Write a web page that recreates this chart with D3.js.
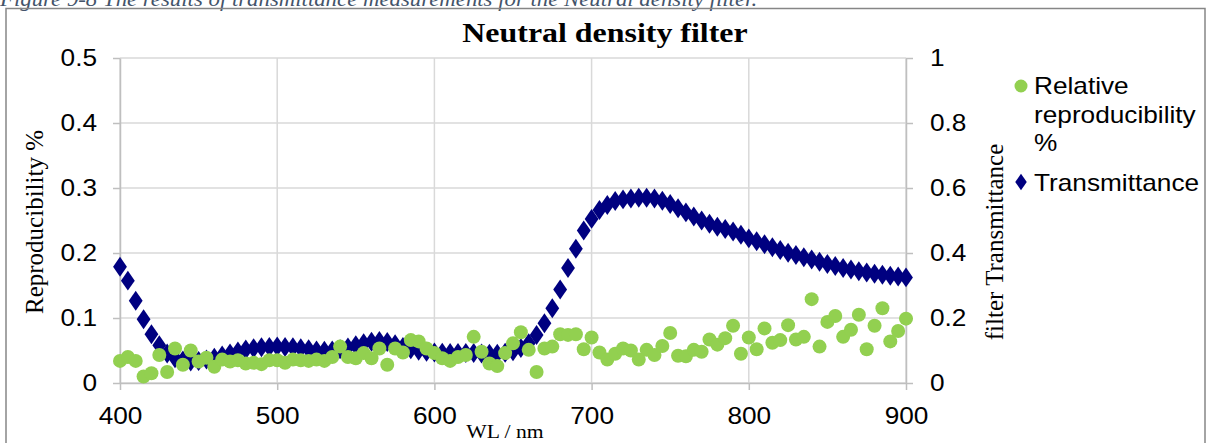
<!DOCTYPE html>
<html><head><meta charset="utf-8">
<script src="https://cdn.jsdelivr.net/npm/d3@7"></script>
<style>body{margin:0;background:#fff;overflow:hidden} svg{display:block}</style>
</head><body><svg id="c" width="1212" height="443"></svg>
<script>
const wavelengths = [400,405,410,415,420,425,430,435,440,445,450,455,460,465,470,475,480,485,490,495,
  500,505,510,515,520,525,530,535,540,545,550,555,560,565,570,575,580,585,590,595,
  600,605,610,615,620,625,630,635,640,645,650,655,660,665,670,675,680,685,690,695,
  700,705,710,715,720,725,730,735,740,745,750,755,760,765,770,775,780,785,790,795,
  800,805,810,815,820,825,830,835,840,845,850,855,860,865,870,875,880,885,890,895,900];
const reproducibility = [0.034,0.040,0.034,0.010,0.015,0.043,0.017,0.053,0.028,0.050,
  0.033,0.039,0.025,0.036,0.033,0.035,0.030,0.031,0.029,0.035,
  0.035,0.031,0.036,0.035,0.034,0.036,0.034,0.040,0.056,0.040,
  0.038,0.046,0.038,0.053,0.028,0.053,0.047,0.066,0.064,0.053,
  0.046,0.038,0.034,0.040,0.043,0.071,0.048,0.030,0.026,0.046,
  0.061,0.078,0.051,0.017,0.053,0.056,0.075,0.074,0.075,0.052,
  0.070,0.047,0.036,0.045,0.053,0.050,0.036,0.051,0.043,0.057,
  0.077,0.042,0.041,0.051,0.048,0.067,0.059,0.069,0.088,0.045,
  0.070,0.052,0.084,0.062,0.066,0.089,0.067,0.071,0.129,0.056,
  0.094,0.103,0.071,0.082,0.105,0.052,0.088,0.115,0.064,0.080,0.099];
const transmittance = [0.358,0.315,0.253,0.196,0.150,0.116,0.091,0.076,0.069,0.066,
  0.068,0.072,0.078,0.085,0.091,0.097,0.103,0.107,0.110,0.111,
  0.112,0.111,0.110,0.107,0.104,0.100,0.099,0.100,0.104,0.109,
  0.116,0.122,0.127,0.129,0.126,0.119,0.111,0.104,0.099,0.096,
  0.094,0.093,0.092,0.092,0.092,0.092,0.091,0.090,0.090,0.093,
  0.098,0.108,0.122,0.148,0.184,0.230,0.288,0.354,0.413,0.469,
  0.505,0.532,0.548,0.560,0.565,0.568,0.570,0.570,0.568,0.561,
  0.551,0.538,0.525,0.512,0.500,0.490,0.481,0.474,0.466,0.456,
  0.445,0.436,0.427,0.418,0.409,0.401,0.394,0.387,0.380,0.373,
  0.366,0.360,0.354,0.349,0.344,0.340,0.336,0.333,0.330,0.328,0.325];
const xTicks = [400,500,600,700,800,900];
const leftTicks = [0,0.1,0.2,0.3,0.4,0.5];
const rightTicks = [0,0.2,0.4,0.6,0.8,1];
const seriesNames = ["Relative", "reproducibility", "%"];
const seriesName2 = "Transmittance";

const SX = 1.14; // horizontal text stretch seen in the reference
const svg = d3.select("#c");
const L = 120, R = 906, T = 58, B = 383;
const x = d3.scaleLinear().domain([400, 900]).range([L, R]);
const yL = d3.scaleLinear().domain([0, 0.5]).range([B, T]);
const yR = d3.scaleLinear().domain([0, 1]).range([B, T]);
const sans = "'Liberation Sans', Arial, sans-serif";
const serif = "'Liberation Serif', 'Times New Roman', serif";

// caption (cut off at top, as in the reference)
svg.append("text").attr("transform", "translate(0,6) scale(" + SX + ",1)")
  .attr("font-family", serif).attr("font-style", "italic").attr("font-size", 20)
  .attr("fill", "#44546A")
  .text("Figure 9-8 The results of transmittance measurements for the Neutral density filter.");

// outer frame
svg.append("rect").attr("x", 6).attr("y", 8.5).attr("width", 1199).attr("height", 460)
  .attr("fill", "none").attr("stroke", "#868686").attr("stroke-width", 1.5);

// gridlines
const grid = svg.append("g").attr("stroke", "#d9d9d9").attr("stroke-width", 1.5);
grid.selectAll(".h").data(leftTicks).join("line")
  .attr("x1", L).attr("x2", R).attr("y1", d => yL(d)).attr("y2", d => yL(d));
grid.selectAll(".v").data(xTicks).join("line")
  .attr("y1", T).attr("y2", B).attr("x1", d => x(d)).attr("x2", d => x(d));

function styleAxis(g) {
  g.select(".domain").attr("stroke", "#bfbfbf").attr("stroke-width", 1.5);
  g.selectAll(".tick line").attr("stroke", "#bfbfbf").attr("stroke-width", 1.5);
  g.selectAll("text").attr("font-family", sans).attr("font-size", 23).attr("fill", "#000");
}
const fmt = d => String(d);
const gx = svg.append("g").attr("transform", `translate(0,${B})`)
  .call(d3.axisBottom(x).tickValues(xTicks).tickSize(7).tickSizeOuter(0).tickFormat(fmt));
styleAxis(gx);
gx.selectAll("text").attr("y", 0).attr("dy", 0)
  .attr("transform", `translate(0,41) scale(${SX},1)`);

const gl = svg.append("g").attr("transform", `translate(${L},0)`)
  .call(d3.axisLeft(yL).tickValues(leftTicks).tickSize(7).tickSizeOuter(0).tickFormat(fmt));
styleAxis(gl);
gl.selectAll("text").attr("x", 0).attr("dy", "0.34em")
  .attr("transform", `translate(-23,0) scale(${SX},1)`);

const gr = svg.append("g").attr("transform", `translate(${R},0)`)
  .call(d3.axisRight(yR).tickValues(rightTicks).tickSize(7).tickSizeOuter(0).tickFormat(fmt));
styleAxis(gr);
gr.selectAll("text").attr("x", 0).attr("dy", "0.34em")
  .attr("transform", `translate(24,0) scale(${SX},1)`);

// title
svg.append("text").attr("transform", `translate(605,42) scale(${SX},1)`)
  .attr("text-anchor", "middle").attr("font-family", serif).attr("font-weight", "bold")
  .attr("font-size", 28).text("Neutral density filter");

// axis titles
svg.append("text").attr("transform", "translate(43,222) rotate(-90)")
  .attr("text-anchor", "middle").attr("font-family", serif).attr("font-size", 25)
  .text("Reproducibility %");
svg.append("text").attr("transform", "translate(1003,242) rotate(-90)")
  .attr("text-anchor", "middle").attr("font-family", serif).attr("font-size", 25)
  .text("filter Transmittance");
svg.append("text").attr("transform", `translate(505,438) scale(${SX},1)`)
  .attr("text-anchor", "middle").attr("font-family", serif).attr("font-size", 19)
  .text("WL / nm");

// series
const diamond = d3.symbol().type(d3.symbolDiamond).size(115);
const data = wavelengths.map((w, i) => ({w, r: reproducibility[i], t: transmittance[i]}));
svg.append("g").selectAll("path").data(data).join("path")
  .attr("d", diamond).attr("fill", "#000080")
  .attr("transform", d => `translate(${x(d.w)},${yR(d.t)}) scale(1.2,1)`);
svg.append("g").selectAll("circle").data(data).join("circle")
  .attr("cx", d => x(d.w)).attr("cy", d => yL(d.r)).attr("r", 7).attr("fill", "#92D050");

// legend
const lg = svg.append("g");
lg.append("circle").attr("cx", 1021).attr("cy", 86).attr("r", 6.5).attr("fill", "#92D050");
seriesNames.forEach((s, i) => {
  lg.append("text").attr("transform", `translate(1034,${94 + i * 28.5}) scale(${SX},1)`)
    .attr("font-family", sans).attr("font-size", 23).text(s);
});
lg.append("path").attr("d", d3.symbol().type(d3.symbolDiamond).size(80))
  .attr("fill", "#000080").attr("transform", "translate(1021,182) scale(1.2,1)");
lg.append("text").attr("transform", `translate(1034,191) scale(${SX},1)`)
  .attr("font-family", sans).attr("font-size", 23).text(seriesName2);
</script></body></html>
